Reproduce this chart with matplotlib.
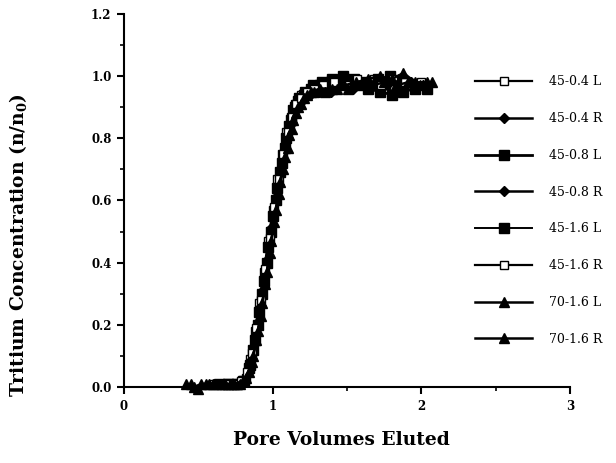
import matplotlib
matplotlib.use('Agg')
import matplotlib.pyplot as plt
from matplotlib.ticker import MultipleLocator

plt.rcParams['font.family'] = 'DejaVu Serif'
plt.rcParams['font.weight'] = 'bold'
plt.rcParams['mathtext.default'] = 'regular'

labels = ['45-0.4 L', '45-0.4 R', '45-0.8 L', '45-0.8 R',
          '45-1.6 L', '45-1.6 R', '70-1.6 L', '70-1.6 R']

x_04L = [0.60, 0.66, 0.72, 0.78, 0.82, 0.85, 0.88, 0.91, 0.94, 0.97, 1.00, 1.03, 1.06, 1.09,
         1.12, 1.15, 1.19, 1.24, 1.30, 1.37, 1.44, 1.52, 1.60, 1.68, 1.76, 1.84, 1.92, 2.00]
y_04L = [0.01, 0.01, 0.01, 0.01, 0.03, 0.09, 0.18, 0.27, 0.37, 0.47, 0.57, 0.67, 0.75, 0.82,
         0.87, 0.91, 0.94, 0.95, 0.96, 0.97, 0.98, 0.97, 0.98, 0.99, 0.97, 0.98, 0.97, 0.98]

x_04R = [0.62, 0.68, 0.74, 0.80, 0.84, 0.87, 0.90, 0.93, 0.96, 0.99, 1.02, 1.05, 1.08, 1.11,
         1.14, 1.17, 1.21, 1.26, 1.32, 1.39, 1.46, 1.54, 1.62, 1.70, 1.78, 1.86, 1.94]
y_04R = [0.01, 0.01, 0.01, 0.02, 0.05, 0.12, 0.21, 0.31, 0.41, 0.51, 0.61, 0.70, 0.78, 0.84,
         0.88, 0.92, 0.94, 0.95, 0.96, 0.95, 0.97, 0.96, 0.98, 0.97, 0.98, 0.99, 0.97]

x_08L = [0.64, 0.70, 0.76, 0.81, 0.85, 0.88, 0.91, 0.94, 0.97, 1.00, 1.03, 1.06, 1.09, 1.12,
         1.15, 1.18, 1.22, 1.27, 1.33, 1.40, 1.48, 1.56, 1.64, 1.72, 1.80, 1.88, 1.96, 2.04]
y_08L = [0.01, 0.01, 0.01, 0.02, 0.07, 0.15, 0.24, 0.34, 0.45, 0.55, 0.64, 0.72, 0.80, 0.86,
         0.90, 0.93, 0.95, 0.97, 0.98, 0.99, 0.99, 0.98, 0.96, 0.95, 0.94, 0.95, 0.96, 0.96]

x_08R = [0.66, 0.72, 0.78, 0.83, 0.86, 0.89, 0.92, 0.95, 0.98, 1.01, 1.04, 1.07, 1.10, 1.13,
         1.16, 1.20, 1.25, 1.31, 1.38, 1.45, 1.53, 1.61, 1.69, 1.77, 1.85, 1.93, 2.01]
y_08R = [0.01, 0.01, 0.01, 0.04, 0.09, 0.17, 0.26, 0.36, 0.46, 0.56, 0.65, 0.73, 0.80, 0.85,
         0.89, 0.92, 0.94, 0.95, 0.96, 0.97, 0.96, 0.97, 0.98, 0.97, 0.99, 0.98, 0.97]

x_16L = [0.70, 0.76, 0.80, 0.84, 0.87, 0.90, 0.93, 0.96, 0.99, 1.02, 1.05, 1.08, 1.11, 1.14,
         1.17, 1.21, 1.26, 1.32, 1.39, 1.47, 1.55, 1.63, 1.71, 1.79, 1.87]
y_16L = [0.01, 0.01, 0.02, 0.06, 0.12, 0.20, 0.30, 0.40, 0.50, 0.60, 0.69, 0.77, 0.84, 0.89,
         0.92, 0.94, 0.96, 0.97, 0.98, 1.00, 0.99, 0.98, 0.99, 1.00, 0.98]

x_16R = [0.68, 0.74, 0.79, 0.83, 0.86, 0.89, 0.92, 0.95, 0.98, 1.01, 1.04, 1.07, 1.10, 1.13,
         1.16, 1.19, 1.23, 1.28, 1.34, 1.41, 1.49, 1.57, 1.65, 1.73, 1.81, 1.89]
y_16R = [0.01, 0.01, 0.02, 0.05, 0.11, 0.19, 0.28, 0.38, 0.48, 0.58, 0.67, 0.75, 0.82, 0.87,
         0.91, 0.93, 0.95, 0.96, 0.97, 0.98, 0.97, 0.99, 0.98, 0.97, 0.99, 0.98]

x_70L = [0.42, 0.47, 0.52, 0.57, 0.62, 0.68, 0.74, 0.80, 0.84, 0.87, 0.90, 0.93, 0.96, 0.99,
         1.02, 1.05, 1.08, 1.11, 1.14, 1.17, 1.21, 1.26, 1.32, 1.40, 1.48, 1.56, 1.64, 1.72,
         1.80, 1.88, 1.96, 2.04]
y_70L = [0.01, 0.00, 0.01, 0.01, 0.01, 0.01, 0.01, 0.02, 0.05, 0.10, 0.18, 0.27, 0.37, 0.47,
         0.57, 0.66, 0.74, 0.81, 0.86, 0.90, 0.93, 0.95, 0.96, 0.96, 0.97, 0.98, 0.99, 1.00,
         0.99, 1.01, 0.98, 0.98]

x_70R = [0.45, 0.50, 0.55, 0.60, 0.66, 0.72, 0.78, 0.82, 0.86, 0.89, 0.92, 0.95, 0.98, 1.01,
         1.04, 1.07, 1.10, 1.13, 1.16, 1.19, 1.23, 1.28, 1.35, 1.43, 1.51, 1.59, 1.67, 1.75,
         1.83, 1.91, 1.99, 2.07]
y_70R = [0.01, -0.005, 0.01, 0.01, 0.01, 0.01, 0.01, 0.03, 0.08, 0.15, 0.23, 0.33, 0.43, 0.53,
         0.62, 0.70, 0.77, 0.83, 0.88, 0.91, 0.94, 0.95, 0.95, 0.96, 0.96, 0.97, 0.97, 0.98,
         0.97, 0.98, 0.97, 0.98]

xs = [x_04L, x_04R, x_08L, x_08R, x_16L, x_16R, x_70L, x_70R]
ys = [y_04L, y_04R, y_08L, y_08R, y_16L, y_16R, y_70L, y_70R]
markers = ['s', 'D', 's', 'D', 's', 's', '^', '^']
faces = ['white', 'black', 'black', 'black', 'black', 'white', 'black', 'black']
sizes = [6, 5.5, 7, 5.5, 6.5, 6, 7, 7]
widths = [1.6, 1.8, 2.0, 1.8, 1.4, 1.6, 1.8, 1.8]

fig = plt.figure(figsize=(6.16, 4.63), dpi=100)
ax = fig.add_axes([0.2013, 0.164, 0.724, 0.806])

for x, y, lab, m, fc, ms, lw in zip(xs, ys, labels, markers, faces, sizes, widths):
    ax.plot(x, y, color='black', marker=m, markerfacecolor=fc, markeredgecolor='black',
            markersize=ms, linewidth=lw, label=lab, clip_on=False)

ax.set_xlim(0, 3)
ax.set_ylim(0, 1.2)
ax.xaxis.set_major_locator(MultipleLocator(1))
ax.xaxis.set_minor_locator(MultipleLocator(0.5))
ax.yaxis.set_major_locator(MultipleLocator(0.2))
ax.yaxis.set_minor_locator(MultipleLocator(0.1))
ax.set_yticks([0, 0.2, 0.4, 0.6, 0.8, 1.0, 1.2])
ax.set_yticklabels(['0.0', '0.2', '0.4', '0.6', '0.8', '1.0', '1.2'])
ax.spines['top'].set_visible(False)
ax.spines['right'].set_visible(False)
ax.spines['left'].set_linewidth(1.5)
ax.spines['bottom'].set_linewidth(1.5)
ax.tick_params(which='major', direction='out', length=5, width=1.5, labelsize=8.5, pad=4)
ax.tick_params(which='minor', direction='out', length=3, width=1.2)

ax.set_xlabel('Pore Volumes Eluted', fontsize=13.4, fontweight='bold')
ax.set_ylabel('Tritium Concentration (n/n$_0$)', fontsize=13.4, fontweight='bold')
ax.xaxis.set_label_coords(0.487, -0.142)
ax.yaxis.set_label_coords(-0.238, 0.38)
ax.xaxis.label.set_va('center')
ax.yaxis.label.set_va('center')

leg = ax.legend(loc='upper left', bbox_to_anchor=(0.787, 0.835), frameon=False,
                prop={'size': 9, 'weight': 'normal'},
                handlelength=4.6, handletextpad=1.3, labelspacing=1.9, borderpad=0,
                borderaxespad=0)

fig.savefig('out.png', dpi=100)
